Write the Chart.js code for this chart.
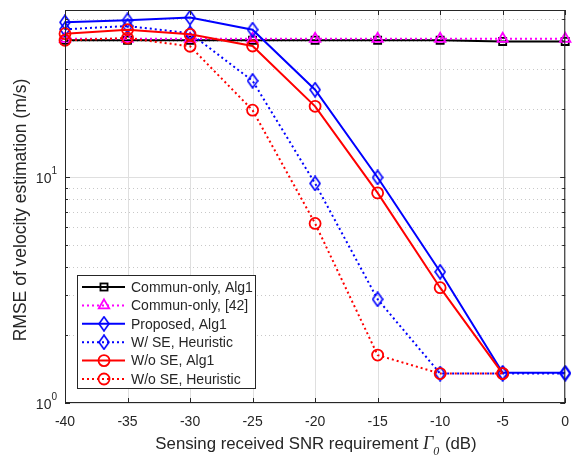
<!DOCTYPE html>
<html>
<head>
<meta charset="utf-8">
<script src="https://cdn.jsdelivr.net/npm/chart.js@4.4.1/dist/chart.umd.min.js"></script>
<style>
html, body { margin: 0; padding: 0; background: #fff; }
#wrap { width: 573px; height: 457px; }
</style>
</head>
<body>
<div id="wrap"><canvas id="chart" width="573" height="457"></canvas></div>
<script>
// values (RMSE, m/s)
var snr = [-40, -35, -30, -25, -20, -15, -10, -5, 0];
var communAlg1 = [40.4, 40.4, 40.4, 40.4, 40.4, 40.4, 40.4, 39.9, 39.9];
var commun42 = [41, 41, 41, 41, 41, 41, 41, 41, 41];
var proposedAlg1 = [48.5, 49.5, 50.9, 45.0, 24.4, 9.97, 3.81, 1.36, 1.36];
var wseHeuristic = [45.2, 46.7, 43.4, 26.7, 9.38, 2.88, 1.35, 1.35, 1.35];
var wosAlg1 = [43.2, 45.0, 42.9, 38.1, 20.6, 8.52, 3.24, 1.35, null];
var wosHeuristic = [40.4, 41.3, 38.0, 19.8, 6.24, 1.63, 1.35, 1.35, null];
var yMajorTicks = [1, 10];
var yMinorTicks = [2, 3, 4, 5, 6, 7, 8, 9, 20, 30, 40, 50];

var txt = '#262626';
var gridCol = '#dfdfdf';

function pts(arr) {
	return snr.map(function(x, i) {
		return {x: x, y: arr[i]};
	});
}

// tall open diamond like matlab's 'd'
function makeDiamond(color) {
	var c = document.createElement('canvas');
	c.width = 12; c.height = 16;
	var g = c.getContext('2d');
	g.strokeStyle = color;
	g.lineWidth = 1.6;
	g.beginPath();
	g.moveTo(6, 1); g.lineTo(11, 8); g.lineTo(6, 15); g.lineTo(1, 8);
	g.closePath();
	g.stroke();
	return c;
}
var blueDiamond = makeDiamond('#0000ff');

function series(label, arr, color, dotted, style, radius, order) {
	return {
		label: label,
		data: pts(arr),
		borderColor: color,
		backgroundColor: color,
		borderWidth: 2,
		borderDash: dotted ? [2, 3] : [],
		pointStyle: style,
		pointRadius: radius,
		pointHoverRadius: radius,
		pointBorderColor: color,
		pointBackgroundColor: 'rgba(0,0,0,0)',
		pointBorderWidth: 1.8,
		tension: 0,
		spanGaps: false,
		clip: false,
		order: order
	};
}

var datasets = [
	series('Commun-only, Alg1', communAlg1, '#000000', false, 'rect', 5, 6),
	series('Commun-only, [42]', commun42, '#ff00ff', true, 'triangle', 6, 5),
	series('Proposed, Alg1', proposedAlg1, '#0000ff', false, blueDiamond, 6, 4),
	series('W/ SE, Heuristic', wseHeuristic, '#0000ff', true, blueDiamond, 6, 3),
	series('W/o SE, Alg1', wosAlg1, '#ff0000', false, 'circle', 5.5, 2),
	series('W/o SE, Heuristic', wosHeuristic, '#ff0000', true, 'circle', 5.5, 1)
];

function legendMarker(ctx, ds, x, y) {
	ctx.save();
	ctx.setLineDash([]);
	ctx.strokeStyle = ds.borderColor;
	ctx.lineWidth = 1.8;
	var r = ds.pointRadius;
	if (ds.pointStyle === 'rect') {
		var s = r * Math.SQRT1_2;
		ctx.strokeRect(x - s, y - s, 2 * s, 2 * s);
	} else if (ds.pointStyle === 'triangle') {
		ctx.beginPath();
		ctx.moveTo(x, y - r);
		ctx.lineTo(x + r * 0.866, y + r * 0.5);
		ctx.lineTo(x - r * 0.866, y + r * 0.5);
		ctx.closePath();
		ctx.stroke();
	} else if (ds.pointStyle === 'circle') {
		ctx.beginPath();
		ctx.arc(x, y, r, 0, Math.PI * 2);
		ctx.stroke();
	} else {
		ctx.drawImage(ds.pointStyle, x - 6, y - 8);
	}
	ctx.restore();
}

var matlabAxes = {
	id: 'matlabAxes',
	beforeDatasetsDraw: function(chart) {
		var ctx = chart.ctx, a = chart.chartArea;
		var xs = chart.scales.x, ys = chart.scales.y;
		ctx.save();
		ctx.lineWidth = 1;
		ctx.strokeStyle = gridCol;
		snr.forEach(function(v) {
			var px = Math.round(xs.getPixelForValue(v)) + 0.5;
			ctx.beginPath(); ctx.moveTo(px, a.top); ctx.lineTo(px, a.bottom); ctx.stroke();
		});
		yMajorTicks.forEach(function(v) {
			var py = Math.round(ys.getPixelForValue(v)) + 0.5;
			ctx.beginPath(); ctx.moveTo(a.left, py); ctx.lineTo(a.right, py); ctx.stroke();
		});
		ctx.strokeStyle = '#c8c8c8';
		ctx.setLineDash([1, 3]);
		yMinorTicks.forEach(function(v) {
			var py = Math.round(ys.getPixelForValue(v)) + 0.5;
			ctx.beginPath(); ctx.moveTo(a.left, py); ctx.lineTo(a.right, py); ctx.stroke();
		});
		ctx.restore();
	},
	afterDatasetsDraw: function(chart) {
		var ctx = chart.ctx, a = chart.chartArea;
		var xs = chart.scales.x, ys = chart.scales.y;
		ctx.save();
		// box + inward ticks
		ctx.strokeStyle = txt;
		ctx.lineWidth = 1;
		ctx.strokeRect(a.left + 0.5, a.top + 0.5, a.right - a.left - 1, a.bottom - a.top - 1);
		ctx.beginPath();
		snr.forEach(function(v) {
			var px = Math.round(xs.getPixelForValue(v)) + 0.5;
			ctx.moveTo(px, a.bottom); ctx.lineTo(px, a.bottom - 5);
			ctx.moveTo(px, a.top); ctx.lineTo(px, a.top + 5);
		});
		yMajorTicks.forEach(function(v) {
			var py = Math.round(ys.getPixelForValue(v)) + 0.5;
			ctx.moveTo(a.left, py); ctx.lineTo(a.left + 5, py);
			ctx.moveTo(a.right, py); ctx.lineTo(a.right - 5, py);
		});
		yMinorTicks.forEach(function(v) {
			var py = Math.round(ys.getPixelForValue(v)) + 0.5;
			ctx.moveTo(a.left, py); ctx.lineTo(a.left + 3, py);
			ctx.moveTo(a.right, py); ctx.lineTo(a.right - 3, py);
		});
		ctx.stroke();

		// y tick labels 10^n
		ctx.fillStyle = txt;
		yMajorTicks.forEach(function(v) {
			var py = ys.getPixelForValue(v);
			var exp = String(Math.round(Math.log10(v)));
			ctx.font = '10px "Liberation Sans", Arial, sans-serif';
			ctx.textAlign = 'right';
			ctx.textBaseline = 'alphabetic';
			var ew = ctx.measureText(exp).width;
			ctx.fillText(exp, a.left - 8, py - 3);
			ctx.font = '14px "Liberation Sans", Arial, sans-serif';
			ctx.fillText('10', a.left - 8 - ew, py + 6);
		});

		// y axis title
		ctx.save();
		ctx.translate(21, 210);
		ctx.rotate(-Math.PI / 2);
		ctx.textAlign = 'center';
		ctx.textBaseline = 'middle';
		ctx.font = '17.5px "Liberation Sans", Arial, sans-serif';
		ctx.fillText('RMSE of velocity estimation (m/s)', 0, 0);
		ctx.restore();

		// x axis title with italic Gamma_0
		var p1 = 'Sensing received SNR requirement ';
		var p3 = ' (dB)';
		var fSans = '16.8px "Liberation Sans", Arial, sans-serif';
		var fIt = 'italic 18px "Liberation Serif", "Times New Roman", serif';
		var fSub = 'italic 12px "Liberation Serif", "Times New Roman", serif';
		ctx.font = fSans; var w1 = ctx.measureText(p1).width, w3 = ctx.measureText(p3).width;
		ctx.font = fIt; var w2 = ctx.measureText('\u0393').width;
		ctx.font = fSub; var wSub = ctx.measureText('0').width;
		var total = w1 + w2 + wSub + 1 + w3;
		var x0 = 316 - total / 2;
		var base = 449;
		ctx.textAlign = 'left';
		ctx.textBaseline = 'alphabetic';
		ctx.font = fSans; ctx.fillText(p1, x0, base);
		ctx.font = fIt; ctx.fillText('\u0393', x0 + w1, base);
		ctx.font = fSub; ctx.fillText('0', x0 + w1 + w2, base + 6);
		ctx.font = fSans; ctx.fillText(p3, x0 + w1 + w2 + wSub + 1, base);

		// legend box
		var lx = 77, ly = 275, lw = 178, lh = 113, rowH = 18.4;
		ctx.fillStyle = '#ffffff';
		ctx.fillRect(lx, ly, lw, lh);
		ctx.strokeStyle = txt;
		ctx.lineWidth = 1;
		ctx.strokeRect(lx + 0.5, ly + 0.5, lw, lh);
		chart.data.datasets.forEach(function(ds, i) {
			var cy = ly + 12 + i * rowH;
			ctx.save();
			ctx.strokeStyle = ds.borderColor;
			ctx.lineWidth = 2;
			ctx.setLineDash(ds.borderDash);
			ctx.beginPath(); ctx.moveTo(82, cy); ctx.lineTo(125, cy); ctx.stroke();
			ctx.restore();
			legendMarker(ctx, ds, 104, cy);
			ctx.fillStyle = txt;
			ctx.font = '14px "Liberation Sans", Arial, sans-serif';
			ctx.textAlign = 'left';
			ctx.textBaseline = 'middle';
			ctx.fillText(ds.label, 131, cy + 1);
		});
		ctx.restore();
	}
};

var ctxOne = document.getElementById('chart').getContext('2d');
var chart = new Chart(ctxOne, {
	type: 'line',
	data: { datasets: datasets },
	options: {
		responsive: false,
		animation: false,
		devicePixelRatio: 1,
		layout: { padding: { top: 10, right: -4, left: 0, bottom: 0 } },
		plugins: {
			legend: { display: false },
			tooltip: { enabled: false }
		},
		scales: {
			x: {
				type: 'linear',
				min: -40,
				max: 0,
				ticks: {
					stepSize: 5,
					color: txt,
					padding: 11,
					font: { family: '"Liberation Sans", Arial, sans-serif', size: 14 },
					callback: function(v) { return String(v); }
				},
				grid: { display: false, drawTicks: false },
				border: { display: false },
				afterFit: function(s) {
					s.height = 54;
					s.paddingLeft = 0;
					s.paddingRight = 0;
				}
			},
			y: {
				type: 'logarithmic',
				min: 1,
				max: 55,
				ticks: { display: false },
				grid: { display: false, drawTicks: false },
				border: { display: false },
				afterFit: function(s) {
					s.width = 65;
					s.paddingTop = 0;
					s.paddingBottom = 0;
				}
			}
		}
	},
	plugins: [matlabAxes]
});
</script>
</body>
</html>
